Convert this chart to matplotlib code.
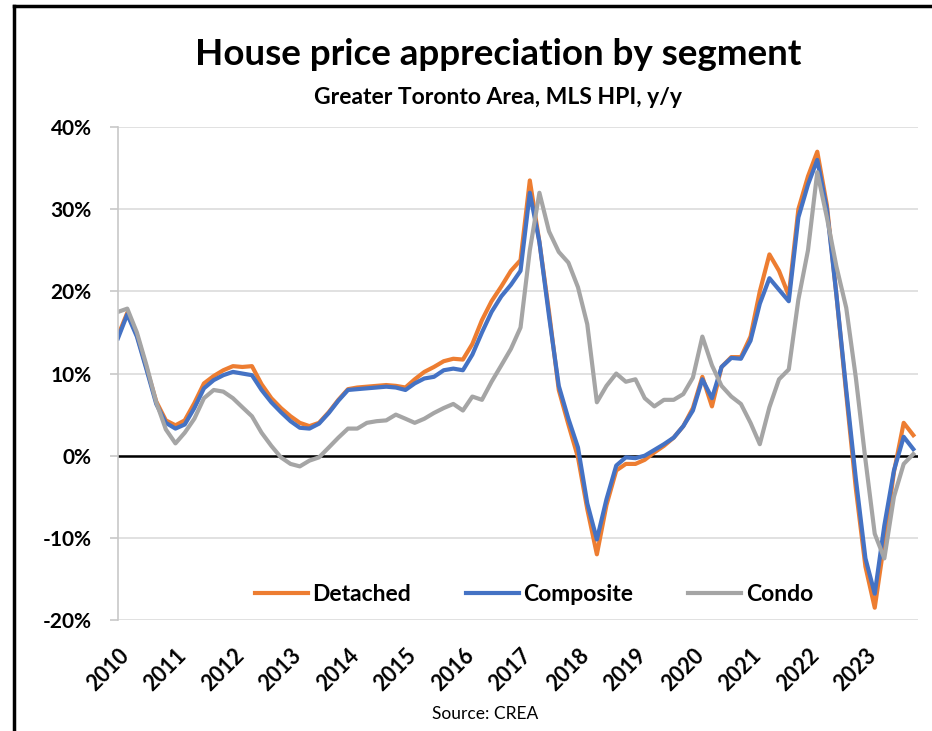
import numpy as np
import pandas as pd
import matplotlib
matplotlib.use("Agg")
import matplotlib.pyplot as plt
from matplotlib.lines import Line2D
from matplotlib.ticker import FuncFormatter

# bi-monthly readings (Jan, Mar, May, Jul, Sep, Nov), y/y % change
dates = pd.date_range("2010-01-01", periods=84, freq="2MS")

detached = [
    14.6, 17.4, 14.7, 10.7, 6.6, 4.3,      # 2010
    3.7, 4.3, 6.4, 8.8, 9.7, 10.4,         # 2011
    10.9, 10.8, 10.9, 8.7, 7.0, 5.8,       # 2012
    4.8, 4.0, 3.6, 4.0, 5.3, 6.8,          # 2013
    8.1, 8.3, 8.4, 8.5, 8.6, 8.5,          # 2014
    8.3, 9.3, 10.2, 10.8, 11.5, 11.8,      # 2015
    11.7, 13.6, 16.5, 18.8, 20.6, 22.5,    # 2016
    23.8, 33.5, 26.0, 17.5, 8.0, 3.8,      # 2017
    -0.2, -6.5, -12.0, -6.0, -1.8, -1.0,   # 2018
    -1.0, -0.5, 0.4, 1.2, 2.2, 3.6,        # 2019
    5.8, 9.6, 6.0, 10.8, 12.0, 12.0,       # 2020
    14.5, 20.0, 24.5, 22.5, 19.5, 30.0,    # 2021
    34.0, 37.0, 30.5, 19.5, 7.5, -4.0,     # 2022
    -13.5, -18.5, -10.5, -2.0, 4.0, 2.5,   # 2023
]

composite = [
    14.3, 17.2, 14.5, 10.5, 6.3, 4.0,
    3.3, 3.8, 5.8, 8.2, 9.2, 9.8,
    10.2, 10.0, 9.8, 8.0, 6.5, 5.3,
    4.2, 3.4, 3.3, 3.9, 5.2, 6.7,
    8.0, 8.1, 8.2, 8.3, 8.4, 8.3,
    8.0, 8.8, 9.4, 9.6, 10.4, 10.6,
    10.4, 12.3, 15.0, 17.5, 19.4, 20.8,
    22.5, 32.0, 26.0, 17.0, 8.5, 4.5,
    1.0, -5.8, -10.2, -5.3, -1.2, -0.2,
    -0.3, 0.0, 0.7, 1.4, 2.2, 3.6,
    5.5, 9.3, 7.0, 10.8, 11.9, 11.8,
    14.0, 18.5, 21.6, 20.2, 18.8, 29.0,
    33.0, 36.0, 30.0, 19.5, 8.0, -2.8,
    -12.5, -16.8, -8.5, -1.8, 2.3, 0.8,
]

condo = [
    17.5, 17.9, 15.0, 11.0, 6.5, 3.2,
    1.5, 2.8, 4.5, 7.0, 8.0, 7.8,
    7.0, 5.9, 4.8, 2.8, 1.2, -0.2,
    -1.0, -1.3, -0.6, -0.2, 1.0, 2.2,
    3.3, 3.3, 4.0, 4.2, 4.3, 5.0,
    4.5, 4.0, 4.5, 5.2, 5.8, 6.3,
    5.5, 7.2, 6.8, 9.0, 11.0, 13.0,
    15.6, 25.0, 32.0, 27.3, 24.8, 23.5,
    20.5, 16.0, 6.5, 8.5, 10.0, 9.0,
    9.3, 7.0, 6.0, 6.8, 6.8, 7.5,
    9.5, 14.5, 11.0, 8.5, 7.2, 6.3,
    4.0, 1.4, 5.9, 9.3, 10.5, 19.0,
    25.0, 34.5, 29.0, 23.0, 18.0, 9.5,
    -0.5, -9.5, -12.5, -5.0, -1.0, 0.2,
]

series = ["Detached", "Composite", "Condo"]
colors = ["#ED7D31", "#4472C4", "#A5A5A5"]
years = list(range(2010, 2024))

plt.rcParams["font.family"] = ["Lato", "DejaVu Sans"]

fig = plt.figure(figsize=(9.32, 7.31), dpi=100)
ax = fig.add_axes([0.1266, 0.1518, 0.8584, 0.6744])

for name, vals, c in zip(series, [detached, composite, condo], colors):
    ax.plot(dates, vals, color=c, lw=3.0, label=name, solid_joinstyle="round")

ax.axhline(0, color="black", lw=1.8, zorder=1)

ax.set_ylim(-20, 40)
ax.set_yticks(range(-20, 41, 10))
ax.yaxis.set_major_formatter(FuncFormatter(lambda v, p: f"{v:.0f}%"))
ax.grid(axis="y", color="#dedede", lw=1.3, zorder=0)
ax.set_axisbelow(True)

ax.set_xlim(pd.Timestamp("2010-01-01"), pd.Timestamp("2023-12-01"))
ax.set_xticks([pd.Timestamp(f"{y}-01-01") for y in years])
ax.set_xticklabels([str(y) for y in years], rotation=45, ha="right", va="top",
                   rotation_mode="anchor")

for s in ["top", "right", "bottom"]:
    ax.spines[s].set_visible(False)
ax.spines["left"].set_color("#c8c8c8")
ax.spines["left"].set_linewidth(1.2)
ax.tick_params(axis="y", length=6, width=1.2, color="#c8c8c8", pad=13,
               labelsize=15)
ax.tick_params(axis="x", length=0, pad=18, labelsize=15.5)
for lab in ax.get_xticklabels() + ax.get_yticklabels():
    lab.set_fontweight("bold")

leg = ax.legend(loc="center", bbox_to_anchor=(0.52, 0.052), ncol=3,
                frameon=False, handlelength=2.3, handletextpad=0.2,
                columnspacing=2.4, prop={"weight": "bold", "size": 16.5})

fig.text(0.534, 0.925, "House price appreciation by segment", ha="center",
         va="center", fontsize=26.5, fontweight="bold")
fig.text(0.534, 0.867, "Greater Toronto Area, MLS HPI, y/y", ha="center",
         va="center", fontsize=16.5, fontweight="bold")
fig.text(0.52, 0.023, "Source: CREA", ha="center", va="center", fontsize=12.5)

# frame of the original clipping
fig.add_artist(Line2D([0.0145, 1.0], [0.992, 0.992], color="black", lw=2.5,
                      transform=fig.transFigure))
fig.add_artist(Line2D([0.0145, 0.0145], [0.0, 0.992], color="black", lw=2.5,
                      transform=fig.transFigure))

fig.savefig("out.png", dpi=100)
